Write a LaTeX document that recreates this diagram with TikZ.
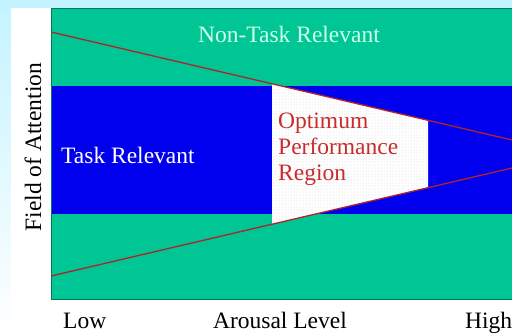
\documentclass[tikz,border=0pt]{standalone}
\usepackage{fontspec}
\setmainfont{Liberation Serif}
\usetikzlibrary{patterns}
\definecolor{bandgreen}{RGB}{0,198,150}
\definecolor{bandblue}{RGB}{0,0,238}
\definecolor{edgegreen}{RGB}{0,120,90}
\definecolor{paletext}{RGB}{205,255,232}
\definecolor{optred}{RGB}{200,45,45}
\definecolor{lineRed}{RGB}{175,35,45}
\definecolor{skycyan}{RGB}{195,243,255}
\tikzset{
  bandlabel/.style={font=\fontsize{23.5}{26}\selectfont,inner sep=0pt},
  axislabel/.style={font=\fontsize{23.5}{26}\selectfont,inner sep=0pt,text=black},
  fieldline/.style={draw=lineRed,line width=1.3pt}
}
\begin{document}
\begin{tikzpicture}[x=1pt,y=-1pt]
\useasboundingbox (0,0) rectangle (512,333);
% Page background: pale cyan rim, white sheet
\shade[top color=skycyan,bottom color=white] (0,0) rectangle (512,333);
\fill[white] (11,8) rectangle (512,333);
% Bands: non-task / task / non-task
\fill[bandgreen] (51,8) rectangle (512,86);
\fill[bandblue] (51,86) rectangle (512,214);
\fill[bandgreen] (51,214) rectangle (512,299);
\draw[edgegreen,line width=0.8pt] (512,8) -- (51,8) -- (51,299) -- (512,299);
% Attention field edges
\coordinate (upL) at (51,32);
\coordinate (upR) at (512,140);
\coordinate (loL) at (51,276);
\coordinate (loR) at (512,168);
\coordinate (optTL) at (272,83.8);
\coordinate (optTR) at (428,120.3);
\coordinate (optBR) at (428,187.6);
\coordinate (optBL) at (272,224.2);
% Optimum performance region
\fill[white] (optTL) -- (optTR) -- (optBR) -- (optBL) -- cycle;
\fill[pattern=dots,pattern color=gray!35] (optTL) -- (optTR) -- (optBR) -- (optBL) -- cycle;
\draw[fieldline] (upL) -- (upR);
\draw[fieldline] (loL) -- (loR);
% Labels
\node[bandlabel,text=paletext] (nontask) at (289,34) {Non-Task Relevant};
\node[bandlabel,text=white,anchor=west] (task) at (61,155) {Task Relevant};
\node[bandlabel,text=optred,anchor=north west,align=left] (optimum) at (278,113) {Optimum\\Performance\\Region};
\node[axislabel,rotate=90] (field) at (33,147) {Field of Attention};
\node[axislabel,anchor=base west] (low) at (63,328) {Low};
\node[axislabel,anchor=base] (arousal) at (280,328) {Arousal Level};
\node[axislabel,anchor=base west] (high) at (465,328) {High};
\end{tikzpicture}
\end{document}
